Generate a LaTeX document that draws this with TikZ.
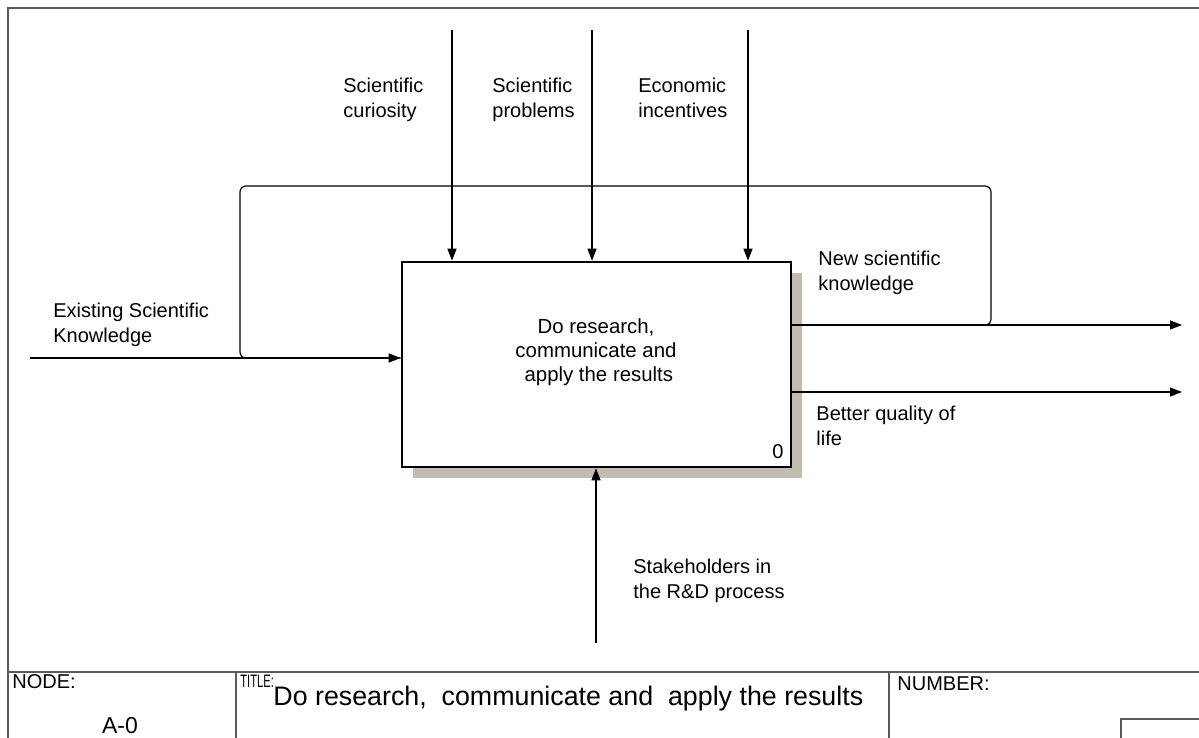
\documentclass[tikz,border=0pt]{standalone}
\usepackage{fontspec}
\setmainfont{Liberation Sans}
\usetikzlibrary{arrows.meta}
\definecolor{frameline}{HTML}{5A5A5A}
\definecolor{shadowgray}{HTML}{C0BCB3}
\begin{document}
\begin{tikzpicture}[x=0.5pt, y=-0.5pt,
                   lbl/.style={inner sep=0pt, anchor=north west, align=left,
                               font=\fontsize{10}{12.5}\selectfont, execute at begin node=\strut},
                   flow/.style={line width=0.6pt, -{Triangle[length=6pt,width=4.5pt]}},
                   fnbox/.style={draw, line width=1.3pt, fill=white, minimum width=194.5pt,
                                 minimum height=102.5pt, inner sep=0pt},
                   frame/.style={draw=frameline, line width=0.9pt},
                   tbline/.style={draw=frameline, line width=0.7pt},
                   tbtext/.style={inner sep=0pt, anchor=west}]
    \useasboundingbox (0,0) rectangle (1199,738);
    \fill[shadowgray] (413,273) rectangle (802,478);
    \node[fnbox] (fn) at (596.5,364.5) {};
    \node[inner sep=0pt, align=center, font=\fontsize{10.2}{12}\selectfont] (fnlbl) at (596,352)
        {Do research,\\communicate and\\ \ apply the results};
    \node[inner sep=0pt, anchor=base east, font=\fontsize{10}{12}\selectfont] (fnnum) at (784,458) {0};
    \coordinate (c1) at (452,30);
    \coordinate (c2) at (592,30);
    \coordinate (c3) at (748,30);
    \coordinate (i1) at (30,358);
    \coordinate (o1) at (1182,325);
    \coordinate (o2) at (1182,392);
    \coordinate (m1) at (596,643);
    \draw[flow] (c1) -- (c1 |- fn.north);
    \draw[flow] (c2) -- (c2 |- fn.north);
    \draw[flow] (c3) -- (c3 |- fn.north);
    \draw[flow] (i1) -- (fn.west |- i1);
    \draw[flow] (fn.east |- o1) -- (o1);
    \draw[flow] (fn.east |- o2) -- (o2);
    \draw[flow] (m1) -- (m1 |- fn.south);
    \draw[line width=0.6pt, rounded corners=3pt] (fn.east |- o1) -- (991,325) -- (991,186)
        -- (240,186) -- (240,358) -- (fn.west |- i1);
    \node[lbl] (curio) at (343,77.5) {Scientific\\curiosity};
    \node[lbl] (probl) at (492,77.5) {Scientific\\problems};
    \node[lbl] (econ) at (638,77.5) {Economic\\incentives};
    \node[lbl] (exist) at (53,302.5) {Existing Scientific\\Knowledge};
    \node[lbl] (newk) at (818,250.5) {New scientific\\knowledge};
    \node[lbl] (qual) at (816,405.5) {Better quality of\\life};
    \node[lbl] (stake) at (633,558.5) {Stakeholders in\\the R\&D process};
    \draw[frame] (8,738) -- (8,8) -- (1199,8);
    \draw[tbline] (8,672) -- (1199,672);
    \draw[tbline] (236,672) -- (236,738);
    \draw[tbline] (889,672) -- (889,738);
    \draw[tbline] (1199,719) -- (1121,719) -- (1121,738);
    \node[tbtext, font=\fontsize{10}{12}\selectfont] (nodehd) at (12,682) {NODE:};
    \node[inner sep=0pt, font=\fontsize{11.5}{13}\selectfont] (nodeid) at (120,726) {A-0};
    \node[tbtext, font=\fontsize{9}{10}\selectfont] (titlehd) at (240,681) {\scalebox{0.62}[1]{TITLE:}};
    \node[tbtext, font=\fontsize{13.4}{15}\selectfont] (titletx) at (273,699)
        {Do research,\ \ communicate and\ \ apply the results};
    \node[tbtext, font=\fontsize{10}{12}\selectfont] (numhd) at (897,684) {NUMBER:};
\end{tikzpicture}
\end{document}
